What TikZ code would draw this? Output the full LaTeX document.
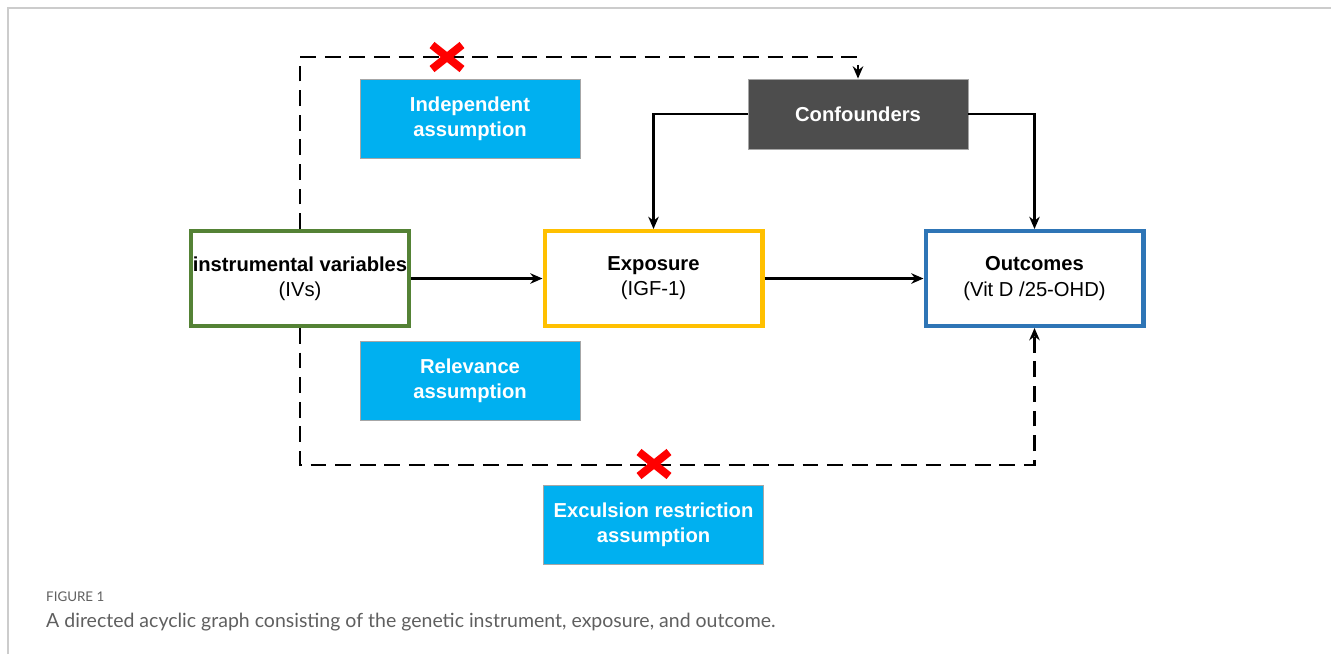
\documentclass[tikz,border=0pt]{standalone}
\usepackage{fontspec}
\setmainfont{Liberation Sans}
\newfontfamily\captionfont{Lato}
\definecolor{AssumptionFill}{HTML}{00B0F0}
\definecolor{ConfounderFill}{HTML}{4D4D4D}
\definecolor{IVBorder}{HTML}{548235}
\definecolor{ExposureBorder}{HTML}{FFC000}
\definecolor{OutcomeBorder}{HTML}{2E75B6}
\definecolor{FrameGray}{HTML}{CCCCCC}
\definecolor{CaptionGray}{HTML}{5F5F5F}
\usetikzlibrary{arrows.meta, calc}

\begin{document}
\begin{tikzpicture}[x=0.02cm, y=-0.02cm,
    assumption/.style={draw=gray!70, line width=0.5pt, fill=AssumptionFill, text=white,
        font=\fontsize{11.5}{14.3}\selectfont\bfseries, align=center,
        minimum width=4.4cm, minimum height=1.58cm, inner sep=0pt},
    varbox/.style={draw, fill=white, line width=2.3pt, align=center,
        font=\fontsize{11.5}{14.3}\selectfont,
        minimum width=4.36cm, minimum height=1.9cm, inner sep=0pt},
    solidarrow/.style={line width=1.2pt, -{Stealth[length=7pt, width=6pt]}},
    dasharrow/.style={line width=1.2pt, dash pattern=on 9pt off 5pt, -{Stealth[length=7pt, width=6pt]}},
    redcross/.style={red, line width=4.5pt}
]

    \useasboundingbox (0,0) rectangle (1331,654);

    % frame
    \draw [FrameGray, line width=1.2pt] (8,654) -- (8,8) -- (1331,8);

    % boxes
    \node [varbox, draw=IVBorder] (iv) at (300,278.5) {\textbf{instrumental variables}\\(IVs)};
    \node [varbox, draw=ExposureBorder] (exposure) at (653.5,278.5) {\textbf{Exposure}\\(IGF-1)};
    \node [varbox, draw=OutcomeBorder] (outcomes) at (1034.5,278.5) {\textbf{Outcomes}\\(Vit D /25-OHD)};
    \node [assumption, draw=gray!70, fill=ConfounderFill, minimum height=1.4cm] (confounders) at (858,114) {Confounders};

    \node [assumption] (independent) at (470,118.5) {Independent\\assumption};
    \node [assumption] (relevance) at (470,380.5) {Relevance\\assumption};
    \node [assumption] (exclusion) at (653.5,524.5) {Exculsion restriction\\assumption};

    % causal paths
    \draw [solidarrow] (iv.east) -- (exposure.west);
    \draw [solidarrow] (exposure.east) -- (outcomes.west);
    \draw [solidarrow] (confounders.west) -| (exposure.north);
    \draw [solidarrow] (confounders.east) -| (outcomes.north);

    % violated paths
    \draw [dasharrow] (iv.north) -- ++(0,-172) -| (confounders.north);
    \draw [dasharrow] (iv.south) -- ++(0,137) -| (outcomes.south);

    \coordinate (crossTop) at (447,57);
    \coordinate (crossBottom) at (654,464);
    \foreach \c in {crossTop, crossBottom} {
        \draw [redcross] ($(\c)+(-15,-12)$) -- ($(\c)+(15,12)$);
        \draw [redcross] ($(\c)+(-15,12)$) -- ($(\c)+(15,-12)$);
    }

    % caption
    \node [anchor=west, text=CaptionGray, font=\captionfont\fontsize{7.6}{9}\selectfont] (figlabel) at (40,597) {FIGURE 1};
    \node [anchor=west, text=CaptionGray, font=\captionfont\fontsize{11.1}{13}\selectfont] (figcaption) at (40,622)
        {A directed acyclic graph consisting of the genetic instrument, exposure, and outcome.};

\end{tikzpicture}
\end{document}
